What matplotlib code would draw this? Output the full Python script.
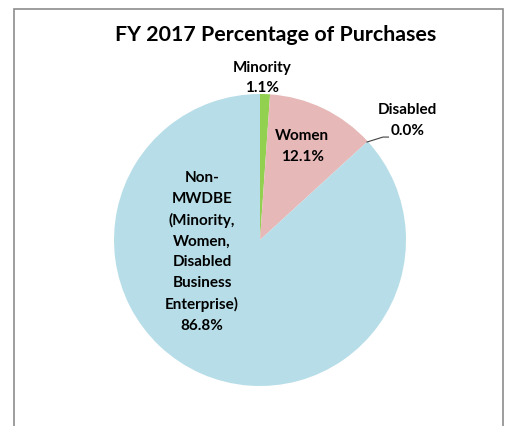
import matplotlib.pyplot as plt
from matplotlib.patches import Rectangle

# data
categories = ['Minority', 'Women', 'Disabled', 'Non-\nMWDBE\n(Minority,\nWomen,\nDisabled\nBusiness\nEnterprise)']
shares = [1.1, 12.1, 0.0, 86.8]
colors = ['#92D050', '#E6B9B8', '#4BACC6', '#B7DEE8']

plt.rcParams['font.family'] = ['Lato', 'DejaVu Sans']

W, H = 505, 426
fig = plt.figure(figsize=(W / 100, H / 100), dpi=100)

# chart border (bottom edge cut off like in the original)
fig.patches.append(Rectangle((14 / W, -0.02), 489 / W, (H - 9) / H + 0.02,
                             transform=fig.transFigure, fill=False,
                             edgecolor='#8C8C8C', linewidth=1.2))

cx, cy, r = 260, 240, 146
ax = fig.add_axes([(cx - r) / W, (H - cy - r) / H, 2 * r / W, 2 * r / H])
ax.pie(shares, colors=colors, startangle=90, counterclock=False, radius=1,
       wedgeprops=dict(linewidth=0))
ax.set_xlim(-1, 1)
ax.set_ylim(-1, 1)
ax.set_aspect('equal')
ax.axis('off')

fig.text(276 / W, 1 - 35 / H, 'FY 2017 Percentage of Purchases', ha='center', va='center',
         fontsize=15.4, fontweight='bold')

lbl = dict(ha='center', va='center', fontsize=11, fontweight='bold', linespacing=1.6)
pos = [(0.014, 1.11), (0.29, 0.64), (1.01, 0.82), (-0.397, -0.082)]
for name, val, (x, y) in zip(categories, shares, pos):
    ax.text(x, y, f'{name}\n{val:.1f}%', **lbl)

# leader line for the Disabled label
ax.plot([0.733, 0.842, 0.88], [0.671, 0.705, 0.705], color='#404040', linewidth=0.8,
        clip_on=False)

fig.savefig('out.png', dpi=100)
